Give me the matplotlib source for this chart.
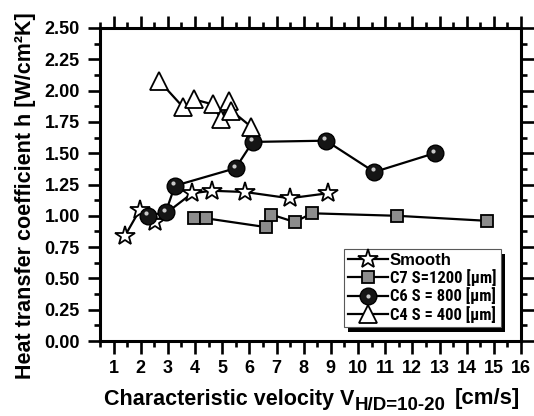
import numpy as np
import matplotlib.pyplot as plt
from matplotlib import transforms, font_manager
from matplotlib.patches import Rectangle
from matplotlib.legend_handler import HandlerTuple
from matplotlib.ticker import MultipleLocator, FormatStrFormatter

plt.rcParams['font.family'] = ['Liberation Sans', 'DejaVu Sans']
plt.rcParams['font.weight'] = 'bold'
plt.rcParams['axes.labelweight'] = 'bold'

# 数据
smooth_x = [1.42, 1.97, 2.51, 3.89, 4.62, 5.84, 7.48, 8.89]
smooth_y = [0.84, 1.05, 0.95, 1.18, 1.20, 1.19, 1.14, 1.18]
c7_x = [3.96, 4.40, 6.60, 6.81, 7.67, 8.30, 11.44, 14.74]
c7_y = [0.98, 0.98, 0.91, 1.01, 0.95, 1.02, 1.00, 0.96]
c6_x = [2.26, 2.92, 3.26, 5.49, 6.12, 8.82, 10.60, 12.82]
c6_y = [1.00, 1.03, 1.24, 1.38, 1.59, 1.60, 1.35, 1.50]
c4_x = [2.67, 3.55, 3.96, 4.65, 4.96, 5.24, 5.34, 6.07]
c4_y = [2.08, 1.87, 1.93, 1.89, 1.77, 1.92, 1.84, 1.71]
labels = ['Smooth', 'C7 S=1200 [µm]', 'C6 S = 800 [µm]', 'C4 S = 400 [µm]']

fig = plt.figure(figsize=(5.34, 4.16), dpi=100)
ax = fig.add_axes([100 / 534, 75 / 416, 421 / 534, 313 / 416])

lw = 1.6
h_star, = ax.plot(smooth_x, smooth_y, '-', color='k', lw=lw, marker='*', ms=15,
                  mfc='white', mec='k', mew=1.3, zorder=3)
h_sq, = ax.plot(c7_x, c7_y, '-', color='k', lw=lw, marker='s', ms=8.5,
                mfc='#8c8c8c', mec='k', mew=1.3, zorder=3)
h_ball, = ax.plot(c6_x, c6_y, '-', color='k', lw=lw, marker='o', ms=12,
                  mfc='#151515', mec='k', mew=1, zorder=4)
# 球体高光
hl = transforms.offset_copy(ax.transData, fig=fig, x=-1.2, y=1.8, units='points')
h_hl, = ax.plot(c6_x, c6_y, ls='none', marker='o', ms=3, mfc='#c8c8c8',
                mec='none', transform=hl, zorder=5)
h_tri, = ax.plot(c4_x, c4_y, '-', color='k', lw=lw, marker='^', ms=12.5,
                 mfc='white', mec='k', mew=1.3, zorder=6)

ax.set_xlim(0.5, 16)
ax.set_ylim(0, 2.5)
ax.xaxis.set_major_locator(MultipleLocator(1))
ax.xaxis.set_minor_locator(MultipleLocator(0.5))
ax.yaxis.set_major_locator(MultipleLocator(0.25))
ax.yaxis.set_minor_locator(MultipleLocator(0.125))
ax.yaxis.set_major_formatter(FormatStrFormatter('%.2f'))
ax.set_xticks(np.arange(1, 17))
ax.tick_params(which='both', direction='out', top=True, right=True, width=1.9)
ax.tick_params(which='major', length=9, labelsize=13)
ax.tick_params(which='minor', length=4.5)
ax.tick_params(axis='x', which='major', pad=5)
ax.tick_params(axis='y', which='major', pad=5.5)
ax.tick_params(axis='x', which='both', labeltop=False)
ax.tick_params(axis='y', which='both', labelright=False)
for s in ax.spines.values():
    s.set_linewidth(2.2)

ax.set_ylabel('Heat transfer coefficient h [W/cm²K]', fontsize=15.5)
ax.yaxis.set_label_coords(-0.153, 0.466)

# x 轴标签（带下标）
t1 = fig.text(104 / 534, 11 / 416, 'Characteristic velocity V', fontsize=15.5,
              fontweight='bold', va='baseline', ha='left')
t2 = ax.annotate('H/D=10-20', xy=(1, 0), xycoords=t1, xytext=(0, -3),
                 textcoords='offset points', fontsize=13.5, va='bottom',
                 ha='left', annotation_clip=False)
t3 = ax.annotate('[cm/s]', xy=(1, 0), xycoords=(t2, t1), xytext=(7, 0.5),
                 textcoords='offset points', fontsize=16, va='bottom',
                 ha='left', annotation_clip=False)

# 图例：找一个窄体字体
names = {f.name for f in font_manager.fontManager.ttflist}
narrow_font = None
for n in ['Liberation Sans Narrow', 'Arial Narrow', 'Roboto Condensed',
          'Open Sans Condensed', 'DejaVu Sans Condensed', 'Noto Sans Condensed']:
    if n in names:
        narrow_font = n
        break
if narrow_font is None:
    for f in font_manager.fontManager.ttflist:
        if f.stretch in ('condensed', 'semi-condensed') and 'Mono' not in f.name:
            narrow_font = f.name
            break

leg = ax.legend([h_star, h_sq, (h_ball, h_hl), h_tri], labels,
                handler_map={tuple: HandlerTuple(ndivide=1)},
                loc='lower left', bbox_to_anchor=(0.58, 0.045), borderaxespad=0,
                fancybox=False, framealpha=1, edgecolor='0.35',
                handlelength=2.4, handletextpad=0.1, labelspacing=0.08,
                borderpad=0.25, fontsize=12 if narrow_font else 10.5)
leg.get_frame().set_linewidth(0.8)
leg.get_texts()[0].set_fontsize(12)
if narrow_font:
    for t in leg.get_texts()[1:]:
        t.set_family([narrow_font, 'Liberation Sans'])
        t.set_fontstretch('condensed')

# 图例阴影
fig.canvas.draw()
bb = leg.get_window_extent()
ax.add_patch(Rectangle((bb.x0 + 4, bb.y0 - 5), bb.width, bb.height,
                       transform=transforms.IdentityTransform(),
                       facecolor='black', edgecolor='none', zorder=4.9,
                       clip_on=False))

fig.savefig('out.png', dpi=100)
